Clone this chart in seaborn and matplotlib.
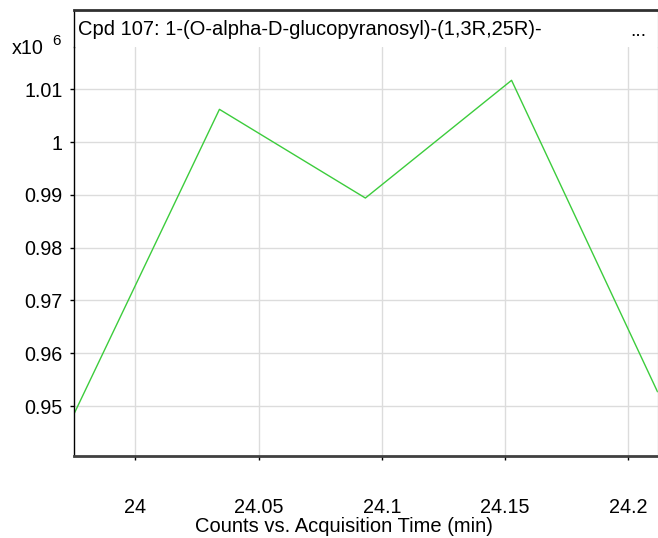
import matplotlib
matplotlib.use("Agg")
import matplotlib.pyplot as plt
import seaborn as sns
import pandas as pd

# --- DATOS ---
tiempos = [23.9749, 24.0341, 24.0933, 24.1526, 24.2118]   # min
cuentas = [0.9483, 1.0062, 0.9894, 1.0117, 0.9527]        # x10^6
ticks_x = [24, 24.05, 24.1, 24.15, 24.2]
etiquetas_x = ["24", "24.05", "24.1", "24.15", "24.2"]
ticks_y = [0.95, 0.96, 0.97, 0.98, 0.99, 1.0, 1.01]
etiquetas_y = ["0.95", "0.96", "0.97", "0.98", "0.99", "1", "1.01"]
titulo = "Cpd 107: 1-(O-alpha-D-glucopyranosyl)-(1,3R,25R)-"
etiqueta_x = "Counts vs. Acquisition Time (min)"

sns.set_style("white")
plt.rcParams["font.family"] = ["Liberation Sans", "DejaVu Sans"]
plt.rcParams["text.color"] = "black"
plt.rcParams["xtick.color"] = "black"
plt.rcParams["ytick.color"] = "black"

W, H = 658, 538
fig = plt.figure(figsize=(W / 100, H / 100), dpi=100)

# ejes principales (zona del trazo)
izq, der, arriba, abajo = 73.5, 657.5, 47, 456
ax = fig.add_axes([izq / W, 1 - abajo / H, (der - izq) / W, (abajo - arriba) / H])

df = pd.DataFrame({"tiempo": tiempos, "cuentas": cuentas})
sns.lineplot(data=df, x="tiempo", y="cuentas", ax=ax, color="#3ccc3c", linewidth=1.0)

ax.set_xlim(23.9749, 24.2118)
ax.set_ylim(0.94053, 1.01801)
ax.set_xticks(ticks_x)
ax.set_xticklabels(etiquetas_x)
ax.set_yticks(ticks_y)
ax.set_yticklabels(etiquetas_y)
ax.set_xlabel("")
ax.set_ylabel("")
ax.grid(True, color="#dcdcdc", linewidth=1.0)

ax.spines["top"].set_visible(False)
ax.spines["left"].set_color("black")
ax.spines["left"].set_linewidth(1.0)
ax.spines["bottom"].set_color("#404040")
ax.spines["bottom"].set_linewidth(2.0)
ax.spines["right"].set_color("#d0d0d0")
ax.spines["right"].set_linewidth(1.0)

ax.tick_params(axis="both", direction="out", length=3, width=1, color="black",
               labelcolor="black", labelsize=14.2, bottom=True, left=True)
ax.tick_params(axis="x", pad=27)
ax.tick_params(axis="y", pad=5)

# caja del titulo encima del trazo
ax_t = fig.add_axes([izq / W, 1 - arriba / H, (der - izq) / W, (arriba - 10) / H])
ax_t.set_xticks([])
ax_t.set_yticks([])
ax_t.set_xlim(0, 1)
ax_t.set_ylim(0, 1)
ax_t.spines["bottom"].set_visible(False)
ax_t.spines["left"].set_color("black")
ax_t.spines["left"].set_linewidth(1.0)
ax_t.spines["top"].set_color("#303030")
ax_t.spines["top"].set_linewidth(2.0)
ax_t.spines["right"].set_color("#d0d0d0")
ax_t.spines["right"].set_linewidth(1.0)
ax_t.text(4.5 / (der - izq), 0.47, titulo, fontsize=14.5, va="center", ha="left",
          color="black")
ax_t.text((630 - izq) / (der - izq), 0.42, "...", fontsize=14, va="center", ha="left",
          color="black")

# multiplicador del eje y
fig.text(12 / W, 1 - 48 / H, "x10", fontsize=14.2, va="center", ha="left", color="black")
fig.text(52 / W, 1 - 41 / H, "6", fontsize=11, va="center", ha="left", color="black")

fig.text(344 / W, 1 - 527 / H, etiqueta_x, fontsize=14.5, va="center", ha="center",
         color="black")

fig.savefig("out.png", dpi=100)
